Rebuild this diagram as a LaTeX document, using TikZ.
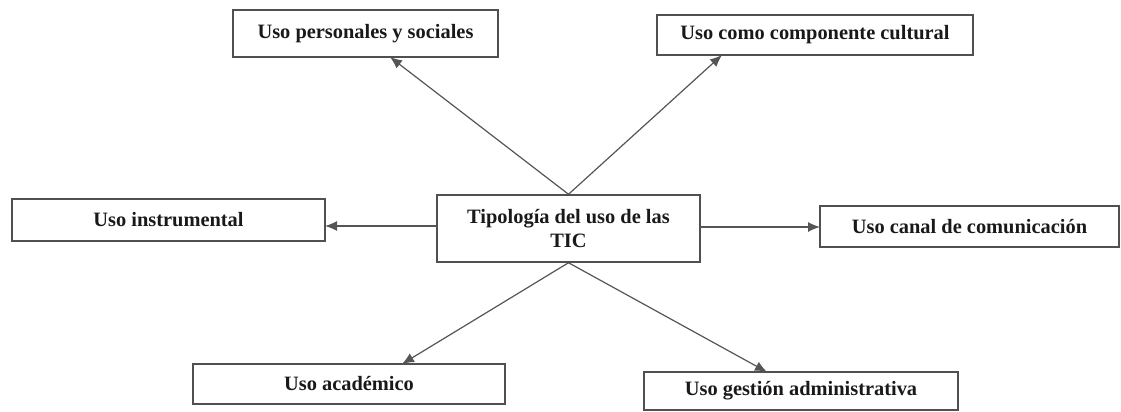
\documentclass[tikz,border=0pt]{standalone}
\usepackage{fontspec}
\setmainfont{Liberation Serif}
\usetikzlibrary{arrows.meta}
\definecolor{linegray}{HTML}{555555}
\definecolor{boxgray}{HTML}{505050}
\tikzset{
  box/.style={draw=boxgray, line width=1.1pt, rectangle, inner sep=0pt,
    font=\fontsize{15.3}{17.5}\selectfont\bfseries, text=black!90, align=center},
  arr/.style={draw=linegray, line width=0.9pt, -{Latex[length=9pt,width=7.5pt]}}
}
\begin{document}
\begin{tikzpicture}[x=0.75pt,y=-0.75pt]
\useasboundingbox (0,0) rectangle (1121,411);
\node[box, minimum width=265*0.75pt, minimum height=47*0.75pt] (b1) at (365.5,33.5) {Uso personales y sociales};
\node[box, minimum width=316*0.75pt, minimum height=40*0.75pt] (b2) at (815,35) {Uso como componente cultural};
\node[box, minimum width=313*0.75pt, minimum height=42*0.75pt] (b3) at (168.5,220) {Uso instrumental};
\node[box, minimum width=263*0.75pt, minimum height=67*0.75pt] (c) at (568.5,228.5) {Tipología del uso de las\\TIC};
\node[box, minimum width=299*0.75pt, minimum height=41*0.75pt] (b4) at (969.5,226.5) {Uso canal de comunicación};
\node[box, minimum width=312*0.75pt, minimum height=40*0.75pt] (b5) at (349,384) {Uso académico};
\node[box, minimum width=314*0.75pt, minimum height=38*0.75pt] (b6) at (801,391) {Uso gestión administrativa};
\coordinate (t1) at (390,57);
\coordinate (t2) at (722,55);
\coordinate (t5) at (402,364);
\coordinate (t6) at (767,372);
\coordinate (cl) at (437,226);
\coordinate (cr) at (700,227);
\coordinate (t3) at (325,226);
\coordinate (t4) at (820,227);
\draw[arr] (c.north) -- (t1);
\draw[arr] (c.north) -- (t2);
\draw[arr] (cl) -- (t3);
\draw[arr] (cr) -- (t4);
\draw[arr] (c.south) -- (t5);
\draw[arr] (c.south) -- (t6);
\end{tikzpicture}
\end{document}
